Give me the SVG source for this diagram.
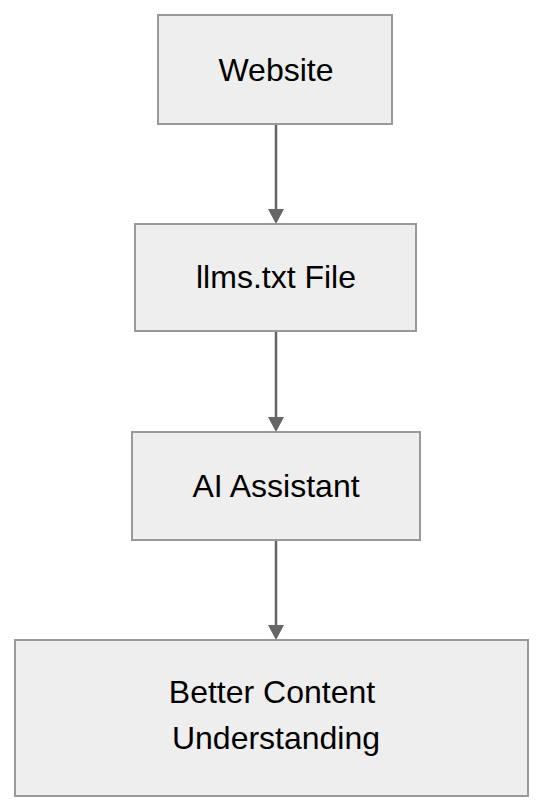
<svg xmlns="http://www.w3.org/2000/svg" width="552" height="812" viewBox="0 0 552 812">
<style>
.box{fill:#eeeeee;stroke:#999999;stroke-width:2}
.lbl{font-family:"Liberation Sans",Arial,Helvetica,sans-serif;font-size:32px;fill:#000;text-anchor:middle}
.edge{stroke:#666666;stroke-width:2.5;fill:none}
.head{fill:#666666}
</style>
<rect width="552" height="812" fill="#ffffff"/>
<g id="connectors">
<line class="edge" x1="276" y1="124" x2="276" y2="212"/>
<polygon class="head" points="268,209 284,209 276,224"/>
<line class="edge" x1="276" y1="331" x2="276" y2="420"/>
<polygon class="head" points="268,417 284,417 276,432"/>
<line class="edge" x1="276" y1="540" x2="276" y2="628"/>
<polygon class="head" points="268,625 284,625 276,640"/>
</g>
<g id="website">
<rect class="box" x="158" y="15" width="234" height="109"/>
<text class="lbl" x="276" y="81">Website</text>
</g>
<g id="llms">
<rect class="box" x="135" y="224" width="281" height="107"/>
<text class="lbl" x="276" y="288">llms.txt File</text>
</g>
<g id="assistant">
<rect class="box" x="132" y="432" width="288" height="108"/>
<text class="lbl" x="276" y="497">AI Assistant</text>
</g>
<g id="better">
<rect class="box" x="15" y="640" width="513" height="156"/>
<text class="lbl" x="272" y="703">Better Content</text>
<text class="lbl" x="276" y="749">Understanding</text>
</g>
</svg>
